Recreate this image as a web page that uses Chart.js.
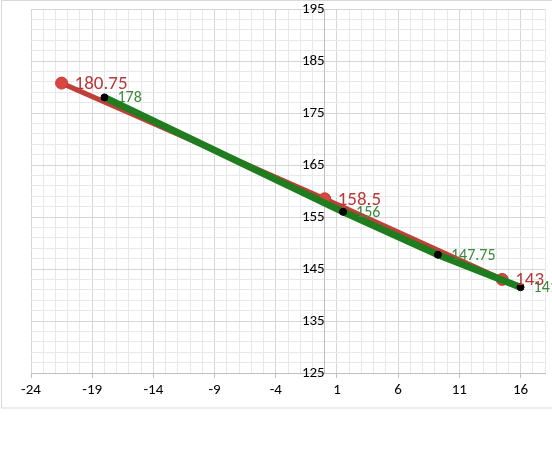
<!DOCTYPE html>
<html><head><meta charset="utf-8">
<script src="https://cdn.jsdelivr.net/npm/chart.js@4"></script>
<style>html,body{margin:0;padding:0;background:#fff;}#wrap{position:relative;width:552px;height:460px;}</style>
</head><body><div id="wrap"><canvas id="c" width="552" height="460"></canvas></div>
<script>
const redX = [-21.5, 0, 14.5];
const redY = [180.75, 158.5, 143];
const greenX = [-18, 1.5, 9.25, 16];
const greenY = [178, 156, 147.75, 141.5];
const xMin = -24, xMax = 18, xMajor = 5;
const yMin = 125, yMax = 195, yMajor = 10, yStep = 2;

const FONT = 'Carlito, Lato, "Liberation Sans", sans-serif';
const isXMajor = v => Math.abs(((Math.round(v) - xMin) % xMajor)) === 0;
const isYMajor = v => Math.abs(((Math.round(v) - yMin) % yMajor)) === 0;

const borderPlugin = {
  id: 'outerBorder',
  beforeDraw(chart) {
    const ctx = chart.ctx;
    ctx.save();
    ctx.strokeStyle = '#d9d9d9';
    ctx.lineWidth = 1;
    ctx.strokeRect(1.5, 0.5, 600, 407.5);
    ctx.restore();
  }
};

const labelPlugin = {
  id: 'pointLabels',
  afterDatasetsDraw(chart) {
    const ctx = chart.ctx;
    chart.data.datasets.forEach((ds, i) => {
      const meta = chart.getDatasetMeta(i);
      ctx.save();
      ctx.font = ds.labelFont;
      ctx.fillStyle = ds.labelColor;
      ctx.textAlign = 'left';
      ctx.textBaseline = 'middle';
      meta.data.forEach((el, j) => {
        ctx.fillText(String(ds.data[j].y), el.x + 13, el.y + 1);
      });
      ctx.restore();
    });
  }
};

new Chart(document.getElementById('c'), {
  type: 'scatter',
  data: {
    datasets: [
      {
        label: 'green',
        data: greenX.map((x, i) => ({x, y: greenY[i]})),
        showLine: true,
        borderColor: '#1f7d1f',
        borderWidth: 7,
        pointRadius: 3.5,
        pointBackgroundColor: '#000',
        pointBorderColor: '#000',
        pointBorderWidth: 1,
        labelFont: '16px ' + FONT,
        labelColor: '#3a8a3a'
      },
      {
        label: 'red',
        data: redX.map((x, i) => ({x, y: redY[i]})),
        showLine: true,
        borderColor: '#bd4137',
        borderWidth: 5,
        pointRadius: 6,
        pointBackgroundColor: '#d8473f',
        pointBorderColor: '#c63c35',
        pointBorderWidth: 1,
        labelFont: '19px ' + FONT,
        labelColor: '#b8383a'
      }
    ]
  },
  options: {
    responsive: false,
    animation: false,
    layout: {padding: {left: 31, right: 1, top: 0, bottom: 58}},
    plugins: {legend: {display: false}, tooltip: {enabled: false}},
    scales: {
      x: {
        type: 'linear',
        position: 'bottom',
        min: xMin, max: xMax,
        border: {display: true, color: '#bfbfbf', width: 1},
        grid: {
          color: ctx => isXMajor(ctx.tick.value) ? '#d6d6d6' : '#e8e8e8',
          tickColor: ctx => isXMajor(ctx.tick.value) ? '#bfbfbf' : 'rgba(0,0,0,0)',
          tickLength: 5,
          drawTicks: true
        },
        ticks: {
          stepSize: 1,
          autoSkip: false,
          maxRotation: 0, minRotation: 0,
          padding: 3,
          color: '#000',
          font: {family: FONT, size: 15},
          callback: v => isXMajor(v) ? String(Math.round(v)) : ''
        }
      },
      y: {
        type: 'linear',
        position: {x: 0},
        min: yMin, max: yMax,
        border: {display: true, color: '#bfbfbf', width: 1},
        grid: {
          color: ctx => isYMajor(ctx.tick.value) ? '#d6d6d6' : '#e8e8e8',
          drawTicks: true,
          tickLength: 8,
          tickColor: 'rgba(0,0,0,0)'
        },
        ticks: {
          stepSize: yStep,
          autoSkip: false,
          padding: 0,
          color: '#000',
          font: {family: FONT, size: 15},
          callback: v => isYMajor(v) ? String(Math.round(v)) : ''
        }
      }
    }
  },
  plugins: [borderPlugin, labelPlugin]
});
</script>
</body></html>
